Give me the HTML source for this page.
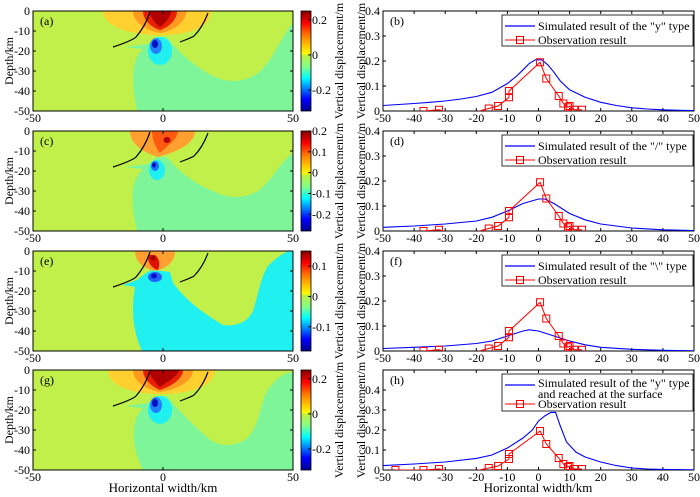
<!DOCTYPE html>
<html><head><meta charset="utf-8"><style>
html,body{margin:0;padding:0;background:#fff}
svg{display:block;font-family:"Liberation Serif",serif}
text{fill:#000}
</style></head><body>
<svg id="fig" width="700" height="497" viewBox="0 0 700 497" xmlns="http://www.w3.org/2000/svg">
<defs>
<clipPath id="mapclip"><rect x="0" y="0" width="260" height="100"/></clipPath>
<linearGradient id="jetA" x1="0" y1="1" x2="0" y2="0">
<stop offset="0" stop-color="#00008f"/><stop offset="0.12" stop-color="#0000ff"/><stop offset="0.33" stop-color="#00ffff"/><stop offset="0.44" stop-color="#7fff8a"/><stop offset="0.56" stop-color="#c0f040"/><stop offset="0.57" stop-color="#ffff00"/><stop offset="0.75" stop-color="#ff8000"/><stop offset="0.88" stop-color="#ff0000"/><stop offset="1" stop-color="#800000"/>
</linearGradient>
</defs>

<!-- Panel a -->
<g transform="translate(33,11)">
<g clip-path="url(#mapclip)">
<rect width="260" height="100" fill="#c2f04a"/>
<path d="M104,100 C100,80 98,60 104,46 C110,36 118,30 124,26 L134,26 C145,40 160,55 180,65 C195,72 210,72 225,62 C240,50 248,25 260,12 L260,100 Z" fill="#7ff59a"/>
<path d="M124,32 L92,36 L116,39 Z" fill="#7ff59a"/>
<ellipse cx="127" cy="40" rx="12" ry="14" fill="#20f0f0"/>
<ellipse cx="123" cy="35" rx="6" ry="8" fill="#2080ff"/>
<ellipse cx="122" cy="33" rx="3" ry="4" fill="#0010c0"/>
<path d="M70,0 C70,15 95,24 127,24 C160,24 178,15 178,0 Z" fill="#ffd030"/>
<path d="M100,0 C100,12 115,20 127,22 C140,20 152,12 154,0 Z" fill="#ff9a20"/>
<path d="M110,0 C110,10 120,17 127,19 C134,17 144,10 144,0 Z" fill="#e82000"/>
<path d="M116,0 C118,8 124,14 127,16 C132,12 138,6 138,0 Z" fill="#b00000"/>
</g>
<path d="M80,36 C92,32 100,29 103,26 C110,18 114,10 117,1" fill="none" stroke="#000" stroke-width="1.2"/>
<path d="M147,31 C152,29 158,27 161,25 C168,18 172,10 175,2" fill="none" stroke="#000" stroke-width="1.2"/>
</g>

<!-- Panel c -->
<g transform="translate(33,131)">
<g clip-path="url(#mapclip)">
<rect width="260" height="100" fill="#c2f04a"/>
<path d="M104,100 C98,75 98,55 104,46 C110,36 118,30 124,26 L134,26 C145,40 160,52 180,60 C195,68 210,68 225,60 C240,48 248,30 260,22 L260,100 Z" fill="#7ff59a"/>
<path d="M124,32 L92,36 L116,39 Z" fill="#7ff59a"/>
<ellipse cx="124" cy="39" rx="8" ry="10" fill="#20f0f0"/>
<ellipse cx="122" cy="35" rx="4" ry="5" fill="#2070ff"/>
<ellipse cx="121" cy="34" rx="2" ry="2.5" fill="#0010c0"/>
<path d="M97,0 C97,14 112,22 125,26 C140,22 162,14 162,0 Z" fill="#ffa030"/>
<path d="M119,0 C119,10 124,18 127,22 C135,14 145,8 145,0 Z" fill="#ff5a10"/>
<ellipse cx="134" cy="9" rx="3.5" ry="3" fill="#b00000"/>
</g>
<path d="M80,36 C92,32 100,29 103,26 C110,18 114,10 117,1" fill="none" stroke="#000" stroke-width="1.2"/>
<path d="M147,31 C152,29 158,27 161,25 C168,18 172,10 175,2" fill="none" stroke="#000" stroke-width="1.2"/>
</g>

<!-- Panel e -->
<g transform="translate(33,251)">
<g clip-path="url(#mapclip)">
<rect width="260" height="100" fill="#c2f04a"/>
<path d="M109,100 C100,80 98,60 102,36 L90,34 L104,29 C110,24 115,20 120,19 L137,21 C138,26 140,30 140,32 C148,42 158,55 190,74 C205,76 215,70 220,60 C225,45 228,25 235,15 C245,5 252,1 257,0 L260,0 L260,100 Z" fill="#20f0f0"/>
<path d="M102,0 C102,12 112,18 122,20 C132,18 142,12 142,0 Z" fill="#ffa030"/>
<path d="M115,4 C114,12 120,18 125,19 C127,14 127,8 122,4 Z" fill="#e01000"/>
<ellipse cx="120" cy="7" rx="2.5" ry="2.5" fill="#a00000"/>
<ellipse cx="122" cy="26" rx="7" ry="5" fill="#2060ff"/>
<ellipse cx="121" cy="25" rx="3" ry="2.5" fill="#0010c0"/>
</g>
<path d="M80,36 C92,32 100,29 103,26 C110,18 114,10 117,1" fill="none" stroke="#000" stroke-width="1.2"/>
<path d="M147,31 C152,29 158,27 161,25 C168,18 172,10 175,2" fill="none" stroke="#000" stroke-width="1.2"/>
</g>

<!-- Panel g -->
<g transform="translate(33,370)">
<g clip-path="url(#mapclip)">
<rect width="260" height="100" fill="#c2f04a"/>
<path d="M110,100 C100,80 98,62 104,46 C110,36 118,30 124,26 L134,26 C145,40 160,55 175,68 C185,77 200,77 212,70 C225,60 228,35 232,25 C240,10 250,3 260,2 L260,100 Z" fill="#7ff59a"/>
<path d="M124,32 L92,36 L116,39 Z" fill="#7ff59a"/>
<ellipse cx="127" cy="40" rx="12" ry="14" fill="#20f0f0"/>
<ellipse cx="123" cy="35" rx="6" ry="8" fill="#2080ff"/>
<ellipse cx="122" cy="33" rx="3" ry="4" fill="#0010c0"/>
<path d="M75,0 C75,16 100,24 127,24 C160,24 182,15 182,0 Z" fill="#ffd030"/>
<path d="M100,0 C100,12 115,20 127,22 C142,20 160,12 160,0 Z" fill="#ff9a20"/>
<path d="M110,0 C110,10 120,17 127,20 C136,17 150,10 150,0 Z" fill="#e82000"/>
<path d="M115,0 C118,8 124,14 127,17 C134,12 145,6 146,0 Z" fill="#b00000"/>
</g>
<path d="M80,36 C92,32 100,29 103,26 C110,18 114,10 117,1" fill="none" stroke="#000" stroke-width="1.2"/>
<path d="M147,31 C152,29 158,27 161,25 C168,18 172,10 175,2" fill="none" stroke="#000" stroke-width="1.2"/>
</g>

<g id="dyn"></g>
</svg>
<script>
// ---- data ----
var panelTops = [11, 131, 251, 370];
var mapLabels = ["(a)", "(c)", "(e)", "(g)"];
var lineLabels = ["(b)", "(d)", "(f)", "(h)"];
var mapXTicks = [-50, 0, 50];
var mapYTicks = [0, -10, -20, -30, -40, -50];
var lineXTicks = [-50, -40, -30, -20, -10, 0, 10, 20, 30, 40, 50];
var cbTicksA = ["0.2", "0", "-0.2"];
var cbValsA = [0.2, 0, -0.2];
var cbTicksC = ["0.2", "0.1", "0", "-0.1", "-0.2"];
var cbValsC = [0.2, 0.1, 0, -0.1, -0.2];
var cbTicksE = ["0.1", "0", "-0.1"];
var cbValsE = [0.1, 0, -0.1];
var cbRange = [[-0.32, 0.25], [-0.28, 0.2], [-0.18, 0.15], [-0.32, 0.25]];
var yMaxs = [0.4, 0.4, 0.4, 0.5];
var yTicks = [0, 0.1, 0.2, 0.3, 0.4];
var simX_b = [-50,-45,-40,-35,-30,-25,-20,-15,-10,-7,-5,-3,-1,1,3,5,7,10,15,20,25,30,35,40,45,50];
var simY_b = [0.022,0.026,0.03,0.035,0.04,0.048,0.058,0.075,0.11,0.14,0.165,0.19,0.205,0.205,0.185,0.155,0.12,0.085,0.055,0.035,0.022,0.013,0.008,0.005,0.003,0.002];
var simX_d = [-50,-40,-30,-20,-15,-10,-5,0,2,5,10,15,20,30,40,50];
var simY_d = [0.015,0.02,0.028,0.04,0.055,0.08,0.11,0.128,0.128,0.11,0.07,0.045,0.028,0.012,0.005,0.002];
var simX_f = [-50,-40,-30,-20,-15,-10,-5,-3,0,5,10,15,20,30,40,50];
var simY_f = [0.01,0.015,0.02,0.03,0.04,0.06,0.08,0.085,0.08,0.06,0.04,0.025,0.015,0.007,0.003,0.001];
var simX_h = [-50,-40,-30,-20,-15,-10,-5,-2,0,2,4,5.5,7,9,12,15,20,25,30,35,40,50];
var simY_h = [0.022,0.03,0.04,0.058,0.075,0.11,0.16,0.2,0.245,0.27,0.288,0.288,0.22,0.14,0.09,0.065,0.04,0.022,0.01,0.005,0.003,0.001];
var obsX = [-37,-32,-25,-16,-13,-9.5,-9.5,0.5,2.5,6.5,8,9.5,10,11.5,14];
var obsY = [0,0.005,-0.02,0.01,0.02,0.055,0.08,0.195,0.13,0.06,0.03,0.015,0.02,0.005,0.005];
var obsX_h = [-46,-37,-32,-25,-16,-13,-9.5,-9.5,0.5,2.5,6.5,8,9.5,10,11.5,14];
var obsY_h = [0,0,0.005,-0.02,0.01,0.02,0.055,0.08,0.195,0.13,0.06,0.03,0.015,0.02,0.005,0.005];
var legendSim = [["Simulated result of the \"y\" type"],["Simulated result of the \"/\" type"],["Simulated result of the \"\\\" type"],["Simulated result of the \"y\" type","and reached at the surface"]];

var NS = "http://www.w3.org/2000/svg";
var root = document.getElementById("dyn");
function mk(tag, attrs, parent) {
  var e = document.createElementNS(NS, tag);
  for (var k in attrs) e.setAttribute(k, attrs[k]);
  (parent || root).appendChild(e);
  return e;
}
function txt(s, x, y, size, anchor, parent) {
  var t = mk("text", {x: x, y: y, "font-size": size, "text-anchor": anchor || "start"}, parent);
  t.textContent = s;
  return t;
}

var ML = 33, MR = 293, RL = 383, RR = 694, H = 100;
var cbTickSets = [[cbTicksA, cbValsA], [cbTicksC, cbValsC], [cbTicksE, cbValsE], [cbTicksA, cbValsA]];
var sims = [[simX_b, simY_b], [simX_d, simY_d], [simX_f, simY_f], [simX_h, simY_h]];

function drawPanel(p) {
  var pTop = panelTops[p], bot = pTop + H;
  var mx = function (v) { return ML + (v + 50) / 100 * (MR - ML); };
  var my = function (v) { return pTop + (-v) / 50 * H; };
  var frame = mk("rect", {x: ML, y: pTop, width: MR - ML, height: H, fill: "none", stroke: "#000", "stroke-width": 1});
  
  
  mapXTicks.forEach(function (v) {
    mk("line", {x1: mx(v), x2: mx(v), y1: bot, y2: bot - 3, stroke: "#000"});
    mk("line", {x1: mx(v), x2: mx(v), y1: pTop, y2: pTop + 3, stroke: "#000"});
    var t = txt(String(v), mx(v), bot + 11, 12, "middle");
    
    
  });
  mapYTicks.forEach(function (v) {
    mk("line", {x1: ML, x2: ML + 3, y1: my(v), y2: my(v), stroke: "#000"});
    mk("line", {x1: MR, x2: MR - 3, y1: my(v), y2: my(v), stroke: "#000"});
    var t = txt(String(v), ML - 3, my(v) + 4, 12, "end");
    
    
  });
  var pl = txt(mapLabels[p], ML + 7, pTop + 14, 12, "start");
  
  
  var yl = txt("Depth/km", 0, 0, 12, "middle");
  yl.setAttribute("transform", "translate(13," + (pTop + 50) + ") rotate(-90)");
  
  
  // colorbar
  var cb = mk("rect", {x: 301, y: pTop, width: 10, height: H, fill: "url(#jetA)", stroke: "#000", "stroke-width": 0.8});
  
  
  var r = cbRange[p];
  var cy = function (v) { return pTop + (r[1] - v) / (r[1] - r[0]) * H; };
  var ts = cbTickSets[p];
  for (var i = 0; i < ts[0].length; i++) {
    mk("line", {x1: 308, x2: 311, y1: cy(ts[1][i]), y2: cy(ts[1][i]), stroke: "#000"});
    var t = txt(ts[0][i], 312, cy(ts[1][i]) + 4, 12, "start");
    
    
  }
  var cl = txt("Vertical displacement/m", 0, 0, 12, "middle");
  cl.setAttribute("transform", "translate(343," + (pTop + 50) + ") rotate(-90)");
  
  

  // line chart
  var ymax = yMaxs[p];
  var lx = function (v) { return RL + (v + 50) / 100 * (RR - RL); };
  var ly = function (v) { return bot - v / ymax * H; };
  var clipId = "lc" + p;
  var cp = mk("clipPath", {id: clipId});
  mk("rect", {x: RL, y: pTop, width: RR - RL, height: H}, cp);
  var lf = mk("rect", {x: RL, y: pTop, width: RR - RL, height: H, fill: "none", stroke: "#000"});
  
  
  lineXTicks.forEach(function (v) {
    mk("line", {x1: lx(v), x2: lx(v), y1: bot, y2: bot - 3, stroke: "#000"});
    mk("line", {x1: lx(v), x2: lx(v), y1: pTop, y2: pTop + 3, stroke: "#000"});
    var t = txt(String(v), lx(v), bot + 11, 12, "middle");
    
    
  });
  yTicks.forEach(function (v) {
    mk("line", {x1: RL, x2: RL + 3, y1: ly(v), y2: ly(v), stroke: "#000"});
    mk("line", {x1: RR, x2: RR - 3, y1: ly(v), y2: ly(v), stroke: "#000"});
    var t = txt(String(v), RL - 3, ly(v) + 4, 12, "end");
    
    
  });
  var yt = txt("Vertical displacement/m", 0, 0, 12, "middle");
  yt.setAttribute("transform", "translate(365," + (pTop + 50) + ") rotate(-90)");
  
  
  var pl2 = txt(lineLabels[p], RL + 7, pTop + 14, 12, "start");
  
  

  // legend (drawn before curves so curves stay visible)
  var two = legendSim[p].length > 1;
  var lh = two ? 37 : 31;
  var lg = mk("g", {});
  
  
  mk("rect", {x: 502, y: pTop + 4, width: 191, height: lh, fill: "#fff", stroke: "#000", "stroke-width": 0.8}, lg);
  var ly1 = two ? pTop + 13 : pTop + 15;
  mk("line", {x1: 505, x2: 535, y1: ly1 + (two ? 2 : 0), y2: ly1 + (two ? 2 : 0), stroke: "#0000ff", "stroke-width": 1.2}, lg);
  legendSim[p].forEach(function (s, k) {
    var t = txt(s, 538, ly1 + 4 + k * 11, 12, "start", lg);
    
    
  });
  var ly2 = pTop + (two ? 34 : 29);
  mk("line", {x1: 505, x2: 535, y1: ly2, y2: ly2, stroke: "#ff0000", "stroke-width": 1}, lg);
  mk("rect", {x: 516.5, y: ly2 - 3.5, width: 7, height: 7, fill: "none", stroke: "#ff0000"}, lg);
  var t2 = txt("Observation result", 538, ly2 + 4, 12, "start", lg);
  
  

  var g = mk("g", {"clip-path": "url(#" + clipId + ")"});
  var sx = sims[p][0], sy = sims[p][1];
  var d = "";
  for (var i = 0; i < sx.length; i++) d += (i ? "L" : "M") + lx(sx[i]).toFixed(1) + "," + ly(sy[i]).toFixed(1);
  var sl = mk("path", {d: d, fill: "none", stroke: "#0000ff", "stroke-width": 1.1}, g);
  
  
  var ox = p === 3 ? obsX_h : obsX, oy = p === 3 ? obsY_h : obsY;
  d = "";
  for (var i = 0; i < ox.length; i++) d += (i ? "L" : "M") + lx(ox[i]).toFixed(1) + "," + ly(oy[i]).toFixed(1);
  var ol = mk("path", {d: d, fill: "none", stroke: "#ff0000", "stroke-width": 1}, g);
  
  
  for (var i = 0; i < ox.length; i++) {
    if (oy[i] < 0) continue;
    var m = mk("rect", {x: lx(ox[i]) - 3.5, y: ly(oy[i]) - 3.5, width: 7, height: 7, fill: "none", stroke: "#ff0000", "stroke-width": 1}, g);
    
    
  }
}
for (var pi = 0; pi < 4; pi++) drawPanel(pi);

var xa = txt("Horizontal width/km", 163, 492, 13, "middle");


var xb = txt("Horizontal width/km", 538, 492, 13, "middle");


</script>
</body></html>
